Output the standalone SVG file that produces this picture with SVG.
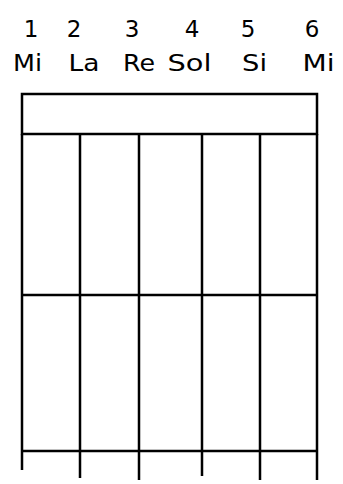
<svg xmlns="http://www.w3.org/2000/svg" width="343" height="484" viewBox="0 0 343 484">
<style>
.t{font-family:"DejaVu Sans","Liberation Sans",sans-serif;font-size:23px;fill:#000;text-anchor:middle}
.l{stroke:#000;stroke-width:2.5;fill:none}
</style>
<rect width="343" height="484" fill="#fff"/>
<g id="numbers">
<text class="t" x="31" y="37">1</text>
<text class="t" x="74" y="37">2</text>
<text class="t" x="132" y="37">3</text>
<text class="t" x="192" y="37">4</text>
<text class="t" x="248" y="37">5</text>
<text class="t" x="312" y="37">6</text>
</g>
<g id="notes">
<text class="t" x="27.5" y="71" textLength="29" lengthAdjust="spacingAndGlyphs">Mi</text>
<text class="t" x="84" y="71" textLength="31" lengthAdjust="spacingAndGlyphs">La</text>
<text class="t" x="139" y="71" textLength="32" lengthAdjust="spacingAndGlyphs">Re</text>
<text class="t" x="189.5" y="71" textLength="44" lengthAdjust="spacingAndGlyphs">Sol</text>
<text class="t" x="254.5" y="71" textLength="25" lengthAdjust="spacingAndGlyphs">Si</text>
<text class="t" x="318.5" y="71" textLength="32" lengthAdjust="spacingAndGlyphs">Mi</text>
</g>
<g id="header">
<rect class="l" x="22" y="94" width="295" height="40"/>
</g>
<g id="grid">
<line class="l" x1="22" y1="134" x2="22" y2="470"/>
<line class="l" x1="80" y1="134" x2="80" y2="478"/>
<line class="l" x1="139" y1="134" x2="139" y2="480"/>
<line class="l" x1="202" y1="134" x2="202" y2="476"/>
<line class="l" x1="260" y1="134" x2="260" y2="480"/>
<line class="l" x1="317" y1="134" x2="317" y2="480"/>
<line class="l" x1="22" y1="295" x2="317" y2="295"/>
<line class="l" x1="22" y1="451" x2="317" y2="451"/>
</g>
</svg>
